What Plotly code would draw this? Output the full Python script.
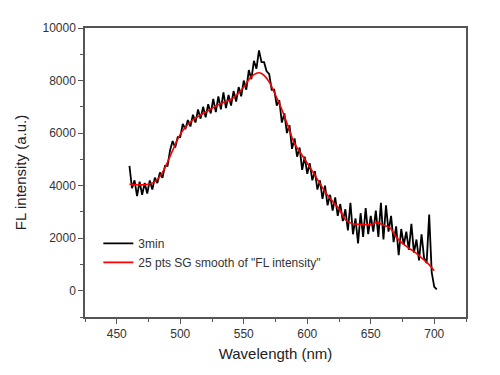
import plotly.graph_objects as go

# Raw spectrum (3min)
wavelength_raw = list(range(460, 703, 2))
intensity_raw = [
    4750, 3900, 4200, 3600, 4150, 3650, 4100, 3700, 4200, 3850,
    4300, 4100, 4500, 4300, 4750, 4750, 5350, 5700, 5450, 5850,
    5850, 6350, 6150, 6500, 6250, 6700, 6400, 6900, 6550, 7000,
    6600, 7100, 6750, 7300, 6800, 7400, 6900, 7550, 6950, 7450,
    7050, 7600, 7200, 7750, 7400, 8000, 7650, 8400, 8050, 8750,
    8450, 9150, 8700, 8700, 8350, 8250, 7650, 7650, 7050, 7250,
    6400, 6750, 6000, 6300, 5400, 5800, 5100, 5450, 4600, 5100,
    4450, 4850, 4200, 4550, 3850, 4200, 3500, 4000, 3250, 3650,
    3050, 3550, 2850, 3300, 2650, 3100, 2300, 3350, 2150, 2750,
    1800, 2950, 2050, 3150, 2150, 2850, 2250, 3050, 2050, 3350,
    1950, 3250, 2250, 2850, 1850, 2450, 1350, 2350, 1750, 2250,
    1550, 2550, 1450, 1950, 1150, 2150, 1250, 1050, 2900, 700,
    150, 50,
]

# Smoothed spectrum (25 pts SG)
wavelength_smooth = [460, 465, 470, 475, 480, 485, 490, 495, 500, 505,
                     510, 515, 520, 525, 530, 535, 540, 545, 550, 555,
                     560, 563, 566, 570, 575, 580, 585, 590, 595, 600,
                     605, 610, 615, 620, 625, 630, 635, 640, 645, 650,
                     655, 660, 665, 670, 675, 680, 685, 690, 695, 700]
intensity_smooth = [4050, 4040, 4030, 4050, 4150, 4420, 4900, 5450, 5950, 6280,
                    6500, 6660, 6800, 6940, 7080, 7180, 7280, 7480, 7750, 8100,
                    8280, 8290, 8200, 7950, 7450, 6900, 6250, 5600, 5225, 4850,
                    4480, 4080, 3700, 3400, 3120, 2700, 2560, 2530, 2520, 2510,
                    2600, 2490, 2400, 2050, 1800, 1620, 1460, 1250, 1040, 760]

legend_names = ["3min", '25 pts SG smooth of "FL intensity"']

fig = go.Figure()
fig.add_trace(go.Scatter(x=wavelength_raw, y=intensity_raw, mode="lines",
                         line=dict(color="black", width=1.8), name=legend_names[0]))
fig.add_trace(go.Scatter(x=wavelength_smooth, y=intensity_smooth, mode="lines",
                         line=dict(color="#ff0000", width=1.6, shape="spline"),
                         name=legend_names[1]))

axis_common = dict(
    showline=True, linecolor="#555555", linewidth=1.5, mirror=True,
    ticks="outside", ticklen=5, tickwidth=1, tickcolor="#555555",
    showgrid=False, zeroline=False, tickformat="d",
    tickfont=dict(family="Liberation Sans, Arial", size=12, color="#333333"),
)

fig.update_layout(
    width=492, height=367,
    margin=dict(l=71, r=34, t=20, b=58),
    paper_bgcolor="white", plot_bgcolor="white",
    showlegend=True,
    legend=dict(x=0.035, y=0.305, xanchor="left", yanchor="top",
                bgcolor="rgba(0,0,0,0)", borderwidth=0,
                font=dict(family="Liberation Sans, Arial", size=12, color="#333333"),
                tracegroupgap=0),
    xaxis=dict(axis_common, range=[425, 725], dtick=50, tick0=450,
               minor=dict(dtick=25, tick0=425, ticks="outside", ticklen=3,
                          tickcolor="#555555"),
               title=dict(text="Wavelength (nm)", standoff=8,
                          font=dict(family="Liberation Sans, Arial", size=15, color="#222222"))),
    yaxis=dict(axis_common, range=[-1000, 10000], dtick=2000, tick0=0,
               minor=dict(dtick=1000, tick0=-1000, ticks="outside", ticklen=3,
                          tickcolor="#555555"),
               title=dict(text="FL intensity (a.u.)", standoff=12,
                          font=dict(family="Liberation Sans, Arial", size=15, color="#222222"))),
)

fig.write_html("out.html")
